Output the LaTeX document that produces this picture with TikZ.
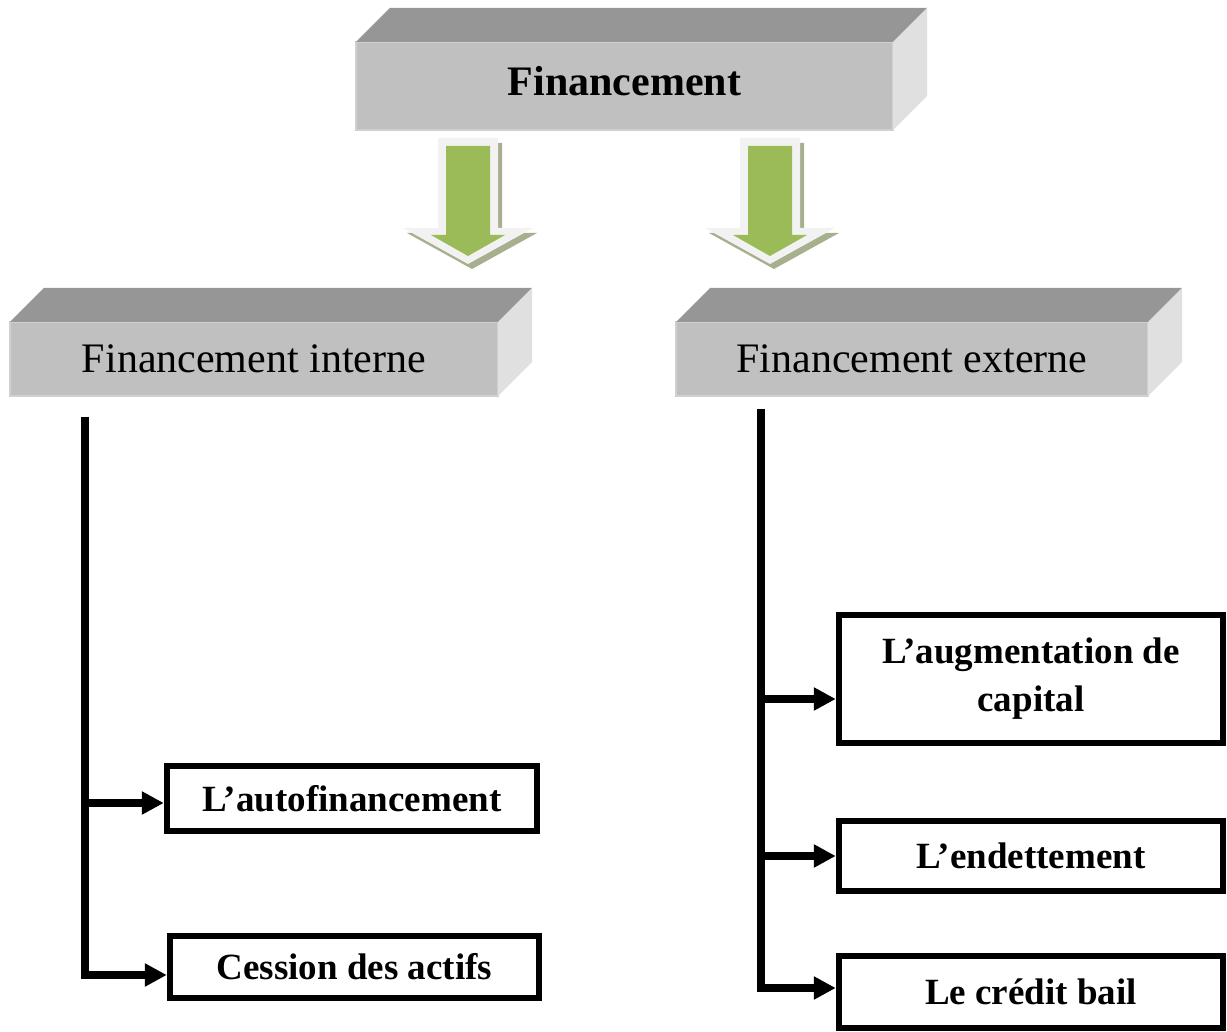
\documentclass[tikz,border=0pt]{standalone}
\usepackage{fontspec}
\setmainfont{Liberation Serif}
\usetikzlibrary{arrows.meta}

\definecolor{facefront}{HTML}{C0C0C0}
\definecolor{facetop}{HTML}{969696}
\definecolor{faceside}{HTML}{E0E0E0}
\definecolor{faceedge}{HTML}{D0D0D0}
\definecolor{arrowgreen}{HTML}{9BBB59}
\definecolor{arrowrim}{HTML}{F2F2F2}
\definecolor{arrowshade}{HTML}{A6AF8E}

% top and right faces of a bevelled slab, depth 34
\newcommand\slabsides[1]{%
  \fill[facetop] (#1.north west) -- ++(34,-34) -- ([shift={(34,-34)}]#1.north east) -- (#1.north east) -- cycle;
  \fill[faceside] (#1.north east) -- ++(34,-34) -- ([shift={(34,-34)}]#1.south east) -- (#1.south east) -- cycle;
}

\begin{document}
\begin{tikzpicture}[x=1pt,y=-1pt,
  slab/.style={rectangle, fill=facefront, draw=faceedge, line width=1.5pt,
    inner sep=0pt, outer sep=0pt, font=\fontsize{42}{48}\selectfont},
  item/.style={rectangle, draw=black, line width=6.5pt, fill=white,
    inner sep=0pt, align=center, font=\fontsize{37}{48}\selectfont\bfseries},
  trunk/.style={line width=7.5pt, line join=miter, -{Triangle[length=22pt,width=22pt]}},
  branch/.style={trunk},
  downarrow/.pic={
    \fill[arrowshade] (-26,-3) -- (34,-3) -- (34,87) -- (69,87) -- (4,123) -- (-61,87) -- (-26,87) -- cycle;
    \fill[arrowrim] (-30,-8) -- (30,-8) -- (30,82) -- (65,82) -- (0,118) -- (-65,82) -- (-30,82) -- cycle;
    \fill[arrowgreen] (-22,0) -- (22,0) -- (22,89) -- (37,89) -- (0,110) -- (-37,89) -- (-22,89) -- cycle;
  }]
\useasboundingbox (0,0) rectangle (1227,1032);

% bevelled headings
\node[slab, minimum width=537pt, minimum height=88pt] (fin) at (624.5,86) {};
\node[font=\fontsize{42}{48}\selectfont\bfseries, inner sep=0pt] (fintitle) at ([yshift=5pt]fin.center) {Financement};
\node[slab, minimum width=488pt, minimum height=74pt] (fint) at (254,359) {Financement interne};
\node[slab, minimum width=472pt, minimum height=74pt] (fext) at (912,359) {Financement externe};
\slabsides{fin}
\slabsides{fint}
\slabsides{fext}

% block arrows between levels
\pic at (468,146) {downarrow};
\pic at (770,146) {downarrow};

% leaf boxes
\node[item, minimum width=370pt, minimum height=65pt] (autof) at (352,798.5) {L’autofinancement};
\node[item, minimum width=369pt, minimum height=62pt] (cess) at (354.5,967) {Cession des actifs};
\node[item, minimum width=384pt, minimum height=128pt] (augm) at (1031,679) {L’augmentation de\\capital};
\node[item, minimum width=384pt, minimum height=70pt] (endet) at (1031,856) {L’endettement};
\node[item, minimum width=384pt, minimum height=72pt] (credit) at (1031,992) {Le crédit bail};

% connectors
\coordinate (ltop) at (85,417);
\coordinate (rtop) at (761,409);
\coordinate (autofin) at ([yshift=-4.5pt]autof.west);
\coordinate (cessin) at ([yshift=-8pt]cess.west);
\coordinate (augmin) at ([yshift=-20pt]augm.west);
\coordinate (endetin) at (endet.west);
\coordinate (creditin) at ([yshift=4pt]credit.west);

\draw[trunk] (ltop) |- (cessin);
\draw[branch] (ltop |- autofin) -- (autofin);

\draw[trunk] (rtop) |- (creditin);
\draw[branch] (rtop |- augmin) -- (augmin);
\draw[branch] (rtop |- endetin) -- (endetin);
\end{tikzpicture}
\end{document}
